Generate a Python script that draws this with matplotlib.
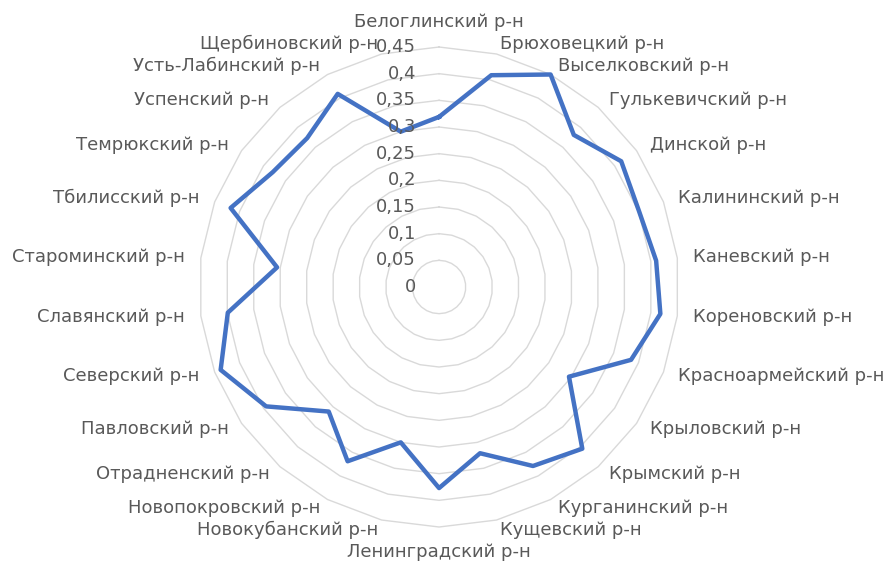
import numpy as np
import matplotlib
matplotlib.use("Agg")
import matplotlib.pyplot as plt
from matplotlib.transforms import offset_copy

# districts, clockwise from the top
districts = [
    "Белоглинский р-н", "Брюховецкий р-н", "Выселковский р-н", "Гулькевичский р-н",
    "Динской р-н", "Калининский р-н", "Каневский р-н", "Кореновский р-н",
    "Красноармейский р-н", "Крыловский р-н", "Крымский р-н", "Курганинский р-н",
    "Кущевский р-н", "Ленинградский р-н", "Новокубанский р-н", "Новопокровский р-н",
    "Отрадненский р-н", "Павловский р-н", "Северский р-н", "Славянский р-н",
    "Староминский р-н", "Тбилисский р-н", "Темрюкский р-н", "Успенский р-н",
    "Усть-Лабинский р-н", "Щербиновский р-н",
]
values = [
    0.319, 0.409, 0.450, 0.381,
    0.415, 0.401, 0.410, 0.418,
    0.385, 0.296, 0.405, 0.379,
    0.321, 0.377, 0.300, 0.369,
    0.312, 0.394, 0.438, 0.399,
    0.306, 0.418, 0.379, 0.373,
    0.409, 0.300,
]
rticks = [0, 0.05, 0.1, 0.15, 0.2, 0.25, 0.3, 0.35, 0.4, 0.45]
rtick_labels = ["0", "0,05", "0,1", "0,15", "0,2", "0,25", "0,3", "0,35", "0,4", "0,45"]

TEXT = "#595959"
GRID = "#d9d9d9"
LINE = "#4472C4"


def plot_radar():
    plt.rcParams["font.family"] = ["DejaVu Sans"]
    fig = plt.figure(figsize=(8.87, 5.61), dpi=100)
    ax = fig.add_axes([0.2244, 0.0606, 0.5412, 0.8556], projection="polar")
    ax.set_theta_zero_location("N")
    ax.set_theta_direction(-1)
    ax.set_ylim(0, 0.45)
    ax.grid(False)
    ax.spines["polar"].set_visible(False)
    ax.set_xticks([])
    ax.set_yticks([])

    n = len(districts)
    angles = np.arange(n) * 2 * np.pi / n
    closed = np.append(angles, angles[0])

    # polygon gridlines like Excel
    for v in rticks[1:]:
        ax.plot(closed, [v] * (n + 1), color=GRID, lw=1, clip_on=False, zorder=1)

    vals = np.append(values, values[0])
    ax.plot(closed, vals, color=LINE, lw=3.2, solid_joinstyle="round",
            clip_on=False, zorder=3)

    # value labels along the vertical axis
    tick_tr = offset_copy(ax.transData, fig=fig, x=-23, y=0, units="dots")
    for v, s in zip(rticks, rtick_labels):
        ax.text(0, v, s, transform=tick_tr, ha="right", va="center",
                fontsize=13, color=TEXT, zorder=4)

    # category labels
    for a, name in zip(angles, districts):
        s, c = np.sin(a), np.cos(a)
        if abs(s) < 0.05:
            ha = "center"
            va = "bottom" if c > 0 else "top"
            dy = 0
        else:
            ha = "left" if s > 0 else "right"
            va = "center"
            dy = -6 * c
        tr = offset_copy(ax.transData, fig=fig, x=0, y=dy, units="dots")
        ax.text(a, 0.48, name, transform=tr, ha=ha, va=va,
                fontsize=13, color=TEXT)

    fig.savefig("out.png", dpi=100)
    plt.close(fig)


if __name__ == "__main__":
    plot_radar()
